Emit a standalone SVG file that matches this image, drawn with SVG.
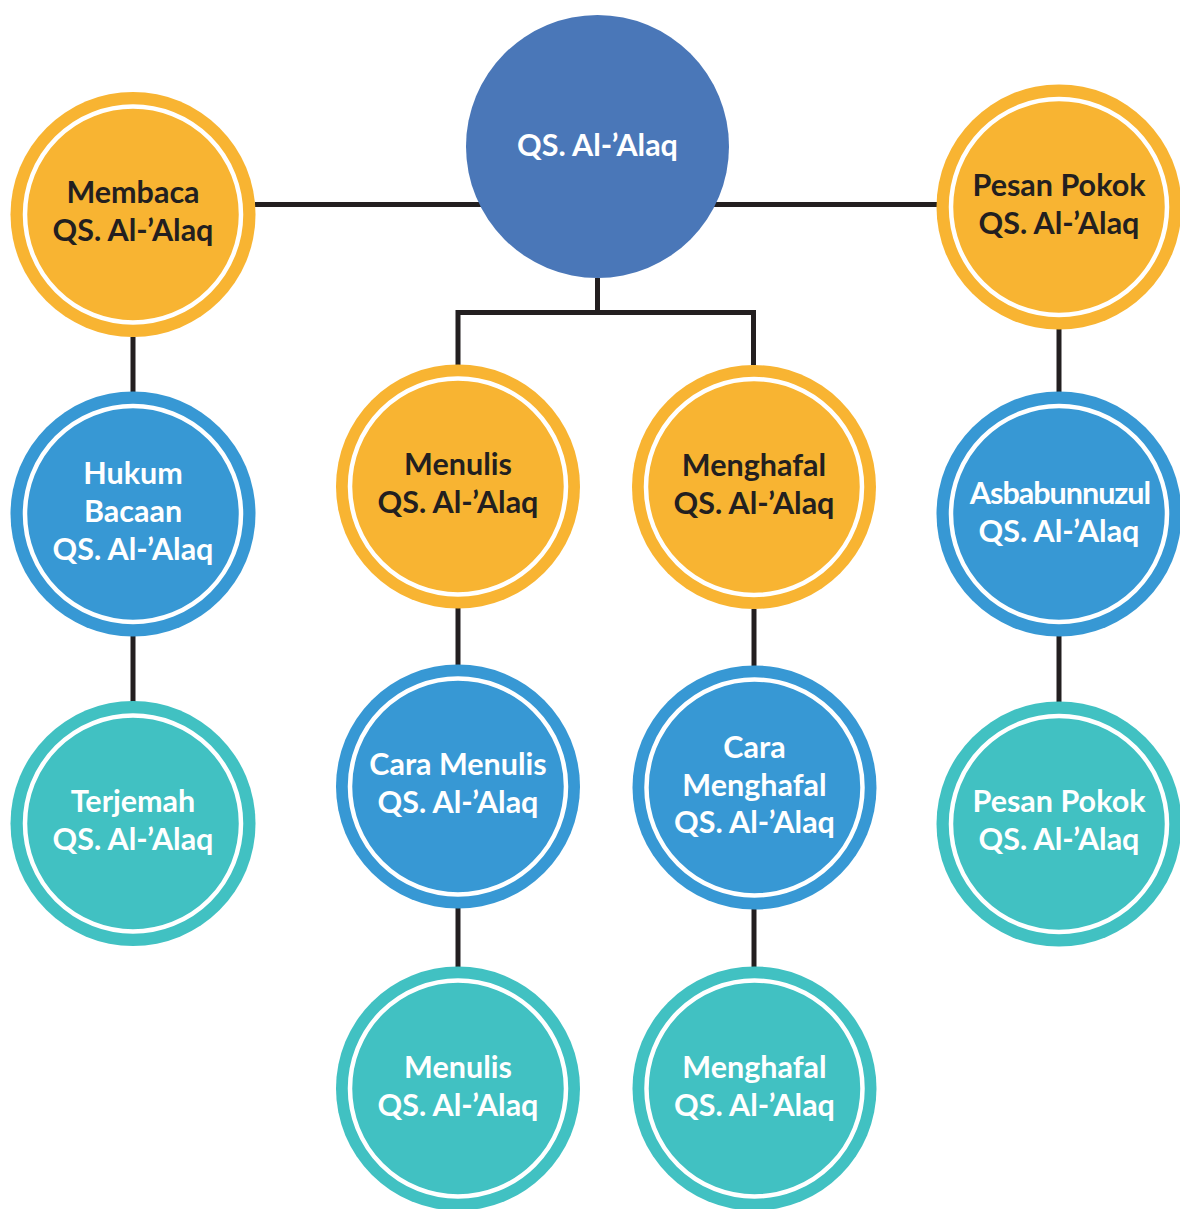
<svg xmlns="http://www.w3.org/2000/svg" width="1180" height="1209" viewBox="0 0 1180 1209">
<style>
.orange{fill:#F8B432}
.blue{fill:#3798D4}
.teal{fill:#41C1C2}
.main{fill:#4A77B8}
.ring{fill:none;stroke:#FFFFFF;stroke-width:4.5}
.conn{stroke:#231F20;stroke-width:5;fill:none;stroke-linecap:butt;stroke-linejoin:miter}
text{font-family:Lato,"Open Sans","Liberation Sans",sans-serif;font-size:30.5px;font-weight:700;text-anchor:middle}
.dark{fill:#231F20}
.light{fill:#FFFFFF}
.tight{letter-spacing:-1px}
</style>
<rect width="1180" height="1209" fill="#FFFFFF"/>
<g id="connectors">
<path class="conn" d="M255 204.5 H937"/>
<path class="conn" d="M133 337 V392"/>
<path class="conn" d="M133 636 V702"/>
<path class="conn" d="M597.5 278 V312.5"/>
<path class="conn" d="M458 365 V312.5 H753.5 V365"/>
<path class="conn" d="M458 608 V665"/>
<path class="conn" d="M458 908 V967"/>
<path class="conn" d="M754 609 V666"/>
<path class="conn" d="M754 909 V967"/>
<path class="conn" d="M1059 329 V392"/>
<path class="conn" d="M1059 636 V702"/>
</g>
<g id="node-main">
<circle class="main" cx="597.5" cy="146.5" r="131.5"/>
<text class="light" x="597.5" y="156">QS. Al-’Alaq</text>
</g>
<g id="node-membaca">
<circle class="orange" cx="133" cy="214.5" r="122.5"/>
<circle class="ring" cx="133" cy="214.5" r="108"/>
<text class="dark" x="133" y="203">Membaca</text>
<text class="dark" x="133" y="241">QS. Al-’Alaq</text>
</g>
<g id="node-pesan-pokok-top">
<circle class="orange" cx="1059" cy="207" r="122.5"/>
<circle class="ring" cx="1059" cy="207" r="108"/>
<text class="dark" x="1059" y="196">Pesan Pokok</text>
<text class="dark" x="1059" y="234">QS. Al-’Alaq</text>
</g>
<g id="node-hukum-bacaan">
<circle class="blue" cx="133" cy="514" r="122.5"/>
<circle class="ring" cx="133" cy="514" r="108"/>
<text class="light" x="133" y="484">Hukum</text>
<text class="light" x="133" y="522">Bacaan</text>
<text class="light" x="133" y="560">QS. Al-’Alaq</text>
</g>
<g id="node-terjemah">
<circle class="teal" cx="133" cy="823.5" r="122.5"/>
<circle class="ring" cx="133" cy="823.5" r="108"/>
<text class="light" x="133" y="812">Terjemah</text>
<text class="light" x="133" y="850">QS. Al-’Alaq</text>
</g>
<g id="node-menulis">
<circle class="orange" cx="458" cy="486.5" r="122"/>
<circle class="ring" cx="458" cy="486.5" r="108"/>
<text class="dark" x="458" y="475">Menulis</text>
<text class="dark" x="458" y="513">QS. Al-’Alaq</text>
</g>
<g id="node-menghafal">
<circle class="orange" cx="754" cy="487" r="122"/>
<circle class="ring" cx="754" cy="487" r="108"/>
<text class="dark" x="754" y="476">Menghafal</text>
<text class="dark" x="754" y="514">QS. Al-’Alaq</text>
</g>
<g id="node-cara-menulis">
<circle class="blue" cx="458" cy="786.5" r="122"/>
<circle class="ring" cx="458" cy="786.5" r="108"/>
<text class="light" x="458" y="775">Cara Menulis</text>
<text class="light" x="458" y="813">QS. Al-’Alaq</text>
</g>
<g id="node-cara-menghafal">
<circle class="blue" cx="754.5" cy="787.5" r="122"/>
<circle class="ring" cx="754.5" cy="787.5" r="108"/>
<text class="light" x="754.5" y="758">Cara</text>
<text class="light" x="754.5" y="796">Menghafal</text>
<text class="light" x="754.5" y="833">QS. Al-’Alaq</text>
</g>
<g id="node-menulis-teal">
<circle class="teal" cx="458" cy="1088.5" r="122"/>
<circle class="ring" cx="458" cy="1088.5" r="108"/>
<text class="light" x="458" y="1078">Menulis</text>
<text class="light" x="458" y="1116">QS. Al-’Alaq</text>
</g>
<g id="node-menghafal-teal">
<circle class="teal" cx="754.5" cy="1088.5" r="122"/>
<circle class="ring" cx="754.5" cy="1088.5" r="108"/>
<text class="light" x="754.5" y="1078">Menghafal</text>
<text class="light" x="754.5" y="1116">QS. Al-’Alaq</text>
</g>
<g id="node-asbabunnuzul">
<circle class="blue" cx="1059" cy="514" r="122.5"/>
<circle class="ring" cx="1059" cy="514" r="108"/>
<text class="light tight" x="1060" y="504">Asbabunnuzul</text>
<text class="light" x="1059" y="542">QS. Al-’Alaq</text>
</g>
<g id="node-pesan-pokok-teal">
<circle class="teal" cx="1059" cy="824" r="122.5"/>
<circle class="ring" cx="1059" cy="824" r="108"/>
<text class="light" x="1059" y="812">Pesan Pokok</text>
<text class="light" x="1059" y="850">QS. Al-’Alaq</text>
</g>
</svg>
